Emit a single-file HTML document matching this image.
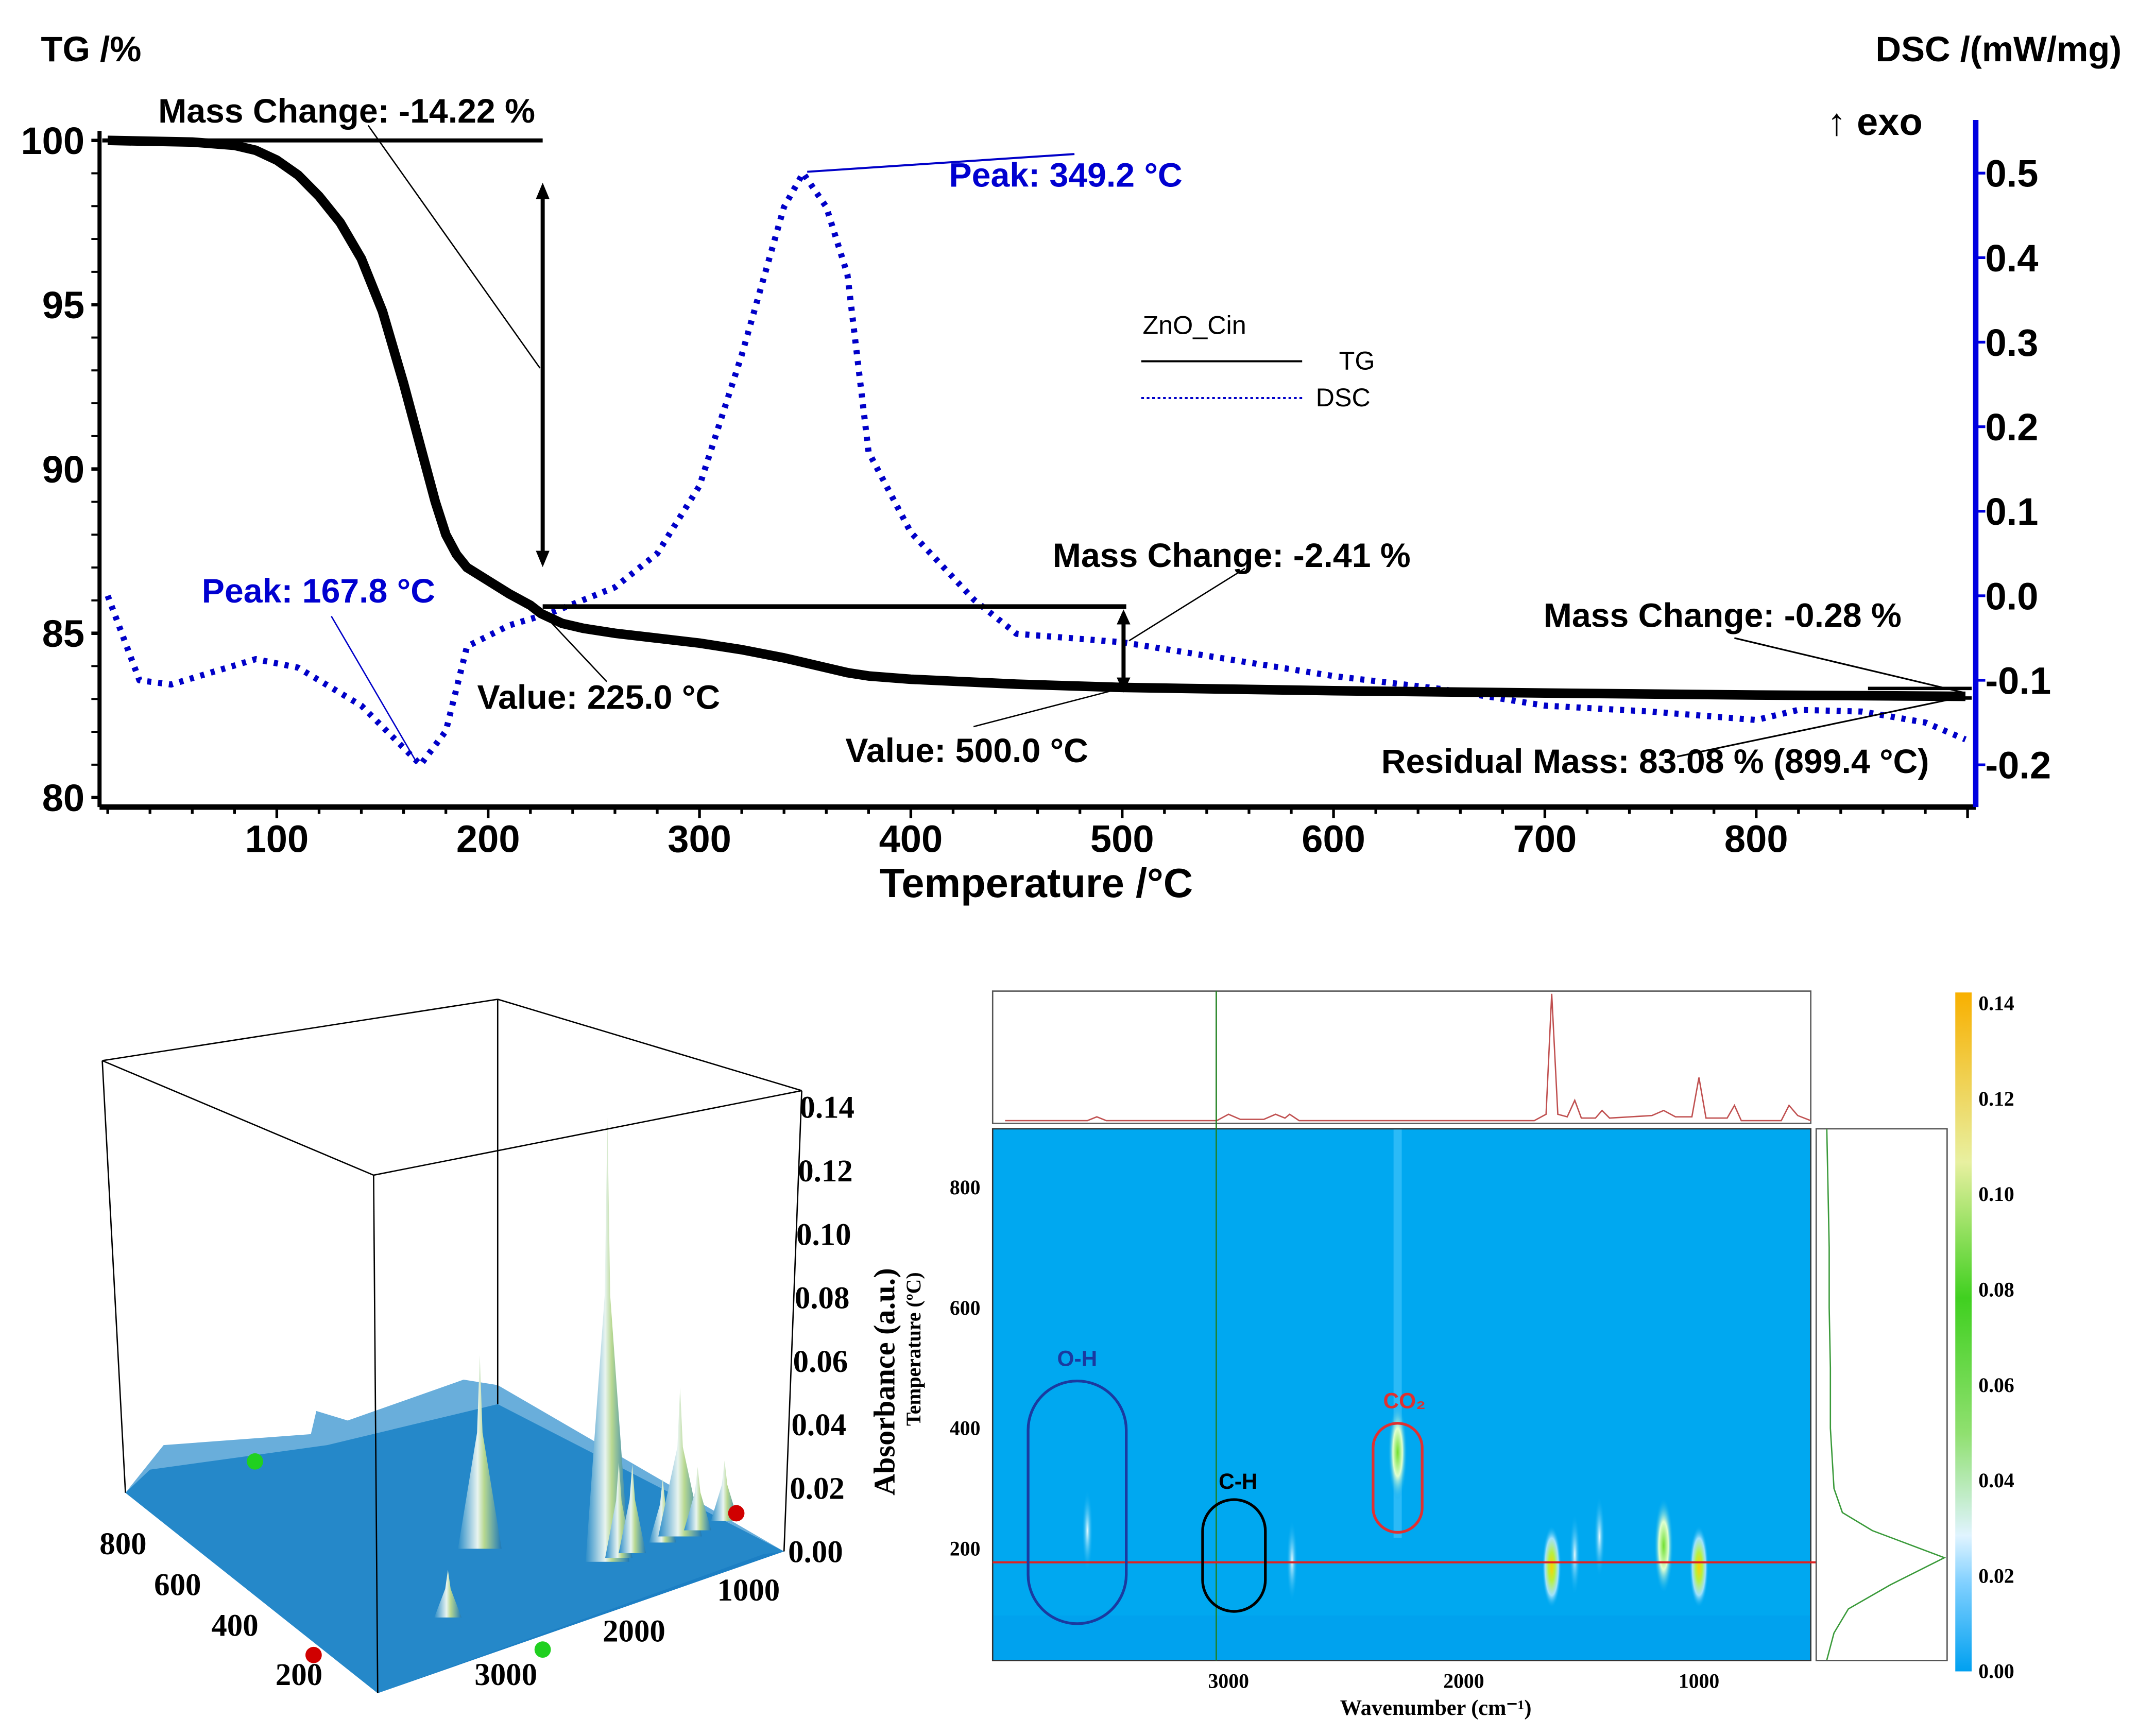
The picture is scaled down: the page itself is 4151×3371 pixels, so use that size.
<!DOCTYPE html>
<html><head><meta charset="utf-8"><style>
html,body{margin:0;padding:0;background:#fff}
svg{display:block}
</style></head><body>
<svg id="root" width="4151" height="3371" viewBox="0 0 1568 1273.4" preserveAspectRatio="none" xmlns="http://www.w3.org/2000/svg">
<defs>
<radialGradient id="blobY"><stop offset="0" stop-color="#ffd000"/><stop offset="0.35" stop-color="#b8f040"/><stop offset="0.7" stop-color="#c8f0ff" stop-opacity="0.8"/><stop offset="1" stop-color="#00aaf0" stop-opacity="0"/></radialGradient>
<radialGradient id="blobG"><stop offset="0" stop-color="#70e030"/><stop offset="0.5" stop-color="#e0ffd0"/><stop offset="1" stop-color="#00aaf0" stop-opacity="0"/></radialGradient>
<radialGradient id="blobW"><stop offset="0" stop-color="#e8fbff"/><stop offset="1" stop-color="#00aaf0" stop-opacity="0"/></radialGradient>
<linearGradient id="pk" x1="0" x2="1"><stop offset="0" stop-color="#2a8cc8"/><stop offset="0.45" stop-color="#e8f4f0"/><stop offset="0.6" stop-color="#b8d890"/><stop offset="1" stop-color="#1d78b8"/></linearGradient>
<linearGradient id="cbar" x1="0" y1="1" x2="0" y2="0"><stop offset="0" stop-color="#00a0f0"/><stop offset="0.13" stop-color="#80d0ff"/><stop offset="0.2" stop-color="#e0f4ff"/><stop offset="0.35" stop-color="#90e070"/><stop offset="0.55" stop-color="#40d020"/><stop offset="0.75" stop-color="#e8f0a0"/><stop offset="1" stop-color="#f8b000"/></linearGradient>
</defs>
<g id="top" font-family="Liberation Sans, sans-serif" font-weight="bold"></g>
<g id="bl"></g>
<g id="br" font-family="Liberation Serif, serif"></g>
</svg>
<script>
// ---- TG/DSC data ----
const tgTemps=[20,60,80,90,100,110,120,130,140,150,160,170,175,180,185,190,200,210,220,225,235,245,260,280,300,320,340,360,370,380,400,450,500,600,700,800,899];
const tgValues=[100,99.95,99.85,99.7,99.4,98.95,98.3,97.5,96.4,94.8,92.6,90.2,89.0,88.0,87.4,87.0,86.6,86.2,85.85,85.6,85.3,85.15,85.0,84.85,84.7,84.5,84.25,83.95,83.8,83.7,83.6,83.45,83.35,83.25,83.18,83.12,83.08];
const dscTemps=[20,35,50,90,110,140,160,168,180,190,210,230,260,280,300,320,340,349,360,370,380,400,430,450,500,550,600,650,700,750,800,820,850,880,899];
const dscValues=[0.0,-0.10,-0.105,-0.075,-0.085,-0.13,-0.18,-0.2,-0.16,-0.06,-0.035,-0.02,0.01,0.05,0.13,0.285,0.46,0.5,0.46,0.38,0.17,0.075,-0.005,-0.045,-0.055,-0.075,-0.095,-0.11,-0.13,-0.137,-0.147,-0.135,-0.137,-0.15,-0.17];
const xTicks=[100,200,300,400,500,600,700,800];
const tgTicks=[80,85,90,95,100];
const dscTicks=[-0.2,-0.1,0.0,0.1,0.2,0.3,0.4,0.5];
// ---- FTIR data ----
const specWn=[3950,3600,3560,3520,3050,3000,2950,2850,2800,2760,2740,2700,2650,2350,2100,1700,1650,1626,1600,1560,1528,1500,1440,1412,1380,1200,1150,1100,1030,1000,970,880,849,820,650,617,580,525];
const specAbs=[0,0,0.03,0,0,0.05,0.01,0.01,0.05,0.02,0.05,0,0,0,0,0,0.05,1.0,0.05,0.03,0.16,0.02,0.02,0.08,0.02,0.04,0.08,0.03,0.03,0.34,0.02,0.02,0.12,0,0,0.12,0.04,0];
const profT=[15,60,100,140,170,185,200,230,260,300,400,500,600,700,800,897];
const profV=[0.02,0.08,0.2,0.55,0.85,1.0,0.8,0.4,0.15,0.08,0.05,0.05,0.04,0.04,0.03,0.02];
const blobWn=[1626,1000,1528,1423,1150,2281,3600,2730];
const blobT=[170,170,190,220,205,360,230,180];
const blobKind=['Y','Y','W','W','G','G','W','W'];
const hmXTicks=[3000,2000,1000];
const hmYTicks=[200,400,600,800];
const cbTicks=[0.00,0.02,0.04,0.06,0.08,0.10,0.12,0.14];
// ---- 3D surface peaks ----
const peakWn=[3000,2281,1626,1528,1412,1150,1000,849,617];
const peakT=[180,360,180,180,180,180,180,180,180];
const peakH=[0.015,0.061,0.14,0.03,0.028,0.02,0.047,0.02,0.019];
const zTicks=[0.00,0.02,0.04,0.06,0.08,0.10,0.12,0.14];

const NS='http://www.w3.org/2000/svg';
function mk(p,tag,at,txt){const e=document.createElementNS(NS,tag);for(const k in at)e.setAttribute(k,at[k]);if(txt!==undefined)e.textContent=txt;p.appendChild(e);return e;}

// ===== TOP CHART =====
const T=document.getElementById('top');
const X=t=>203+(t-100)*1.55, YT=v=>103+(100-v)*24.1, YD=d=>437-d*620;
let e;
e=mk(T,'line',{x1:73,y1:96,x2:73,y2:592,stroke:'#000','stroke-width':3});

e=mk(T,'line',{x1:73,y1:592,x2:1449,y2:592,stroke:'#000','stroke-width':4});

e=mk(T,'line',{x1:1449,y1:88,x2:1449,y2:592,stroke:'#0000e0','stroke-width':4});

for(let v=80;v<=100;v+=1){e=mk(T,'line',{x1:67,y1:YT(v),x2:73,y2:YT(v),stroke:'#000','stroke-width':v%5?1.5:2.5});
}
tgTicks.forEach(v=>{e=mk(T,'text',{x:62,y:YT(v)+10,'font-size':28,'text-anchor':'end'},String(v));
});
for(let t=20;t<=900;t+=20){e=mk(T,'line',{x1:X(t),y1:592,x2:X(t),y2:t%100?597:600,stroke:'#000','stroke-width':2});
}
xTicks.forEach(t=>{e=mk(T,'text',{x:X(t),y:625,'font-size':28,'text-anchor':'middle'},String(t));
});
dscTicks.forEach(d=>{e=mk(T,'line',{x1:1449,y1:YD(d),x2:1456,y2:YD(d),stroke:'#0000e0','stroke-width':2});

e=mk(T,'text',{x:1456,y:YD(d)+10,'font-size':28},d.toFixed(1));
});
function lab(x,y,s,txt,name,fill,anchor){const el=mk(T,'text',{x:x,y:y,'font-size':s,fill:fill||'#000','text-anchor':anchor||'start'},txt);
return el;}
lab(30,45,26,'TG /%','tg-axis-title');
lab(1556,45,26,'DSC /(mW/mg)','dsc-axis-title','#000','end');
lab(1340,99,28,'↑ exo','exo-label');
lab(760,658,30,'Temperature /°C','x-axis-title','#000','middle');
let pts=dscTemps.map((t,i)=>X(t)+','+YD(dscValues[i])).join(' ');
e=mk(T,'polyline',{points:pts,fill:'none',stroke:'#0000c8','stroke-width':4.5,'stroke-dasharray':'3 5','stroke-linejoin':'round'});

pts=tgTemps.map((t,i)=>X(t)+','+YT(tgValues[i])).join(' ');
e=mk(T,'polyline',{points:pts,fill:'none',stroke:'#000','stroke-width':7,'stroke-linejoin':'round'});

function ln(x1,y1,x2,y2,w,name,c){const el=mk(T,'line',{x1,y1,x2,y2,stroke:c||'#000','stroke-width':w});}
ln(75,103,398,103,3,'mass-change-1-line');ln(398,138,398,412,3,'mass-change-1-arrow');
mk(T,'path',{d:'M393,146 L398,134 L403,146Z M393,404 L398,416 L403,404Z',fill:'#000'});
ln(270,92,396,270,1,'leader');ln(398,445,826,445,3.5,'mass-change-2-line');ln(824,450,824,505,3,'mass-change-2-arrow');
mk(T,'path',{d:'M819,458 L824,447 L829,458Z M819,497 L824,508 L829,497Z',fill:'#000'});
ln(828,470,913,417,1,'leader');ln(398,450,445,500,1,'leader');ln(714,533,818,506,1,'leader');
ln(243,452,306,560,1,'leader','#0000c8');ln(592,126,788,113,1.5,'leader','#0000c8');
ln(1272,468,1440,508,1.2,'leader');ln(1230,555,1440,511,1.2,'leader');
ln(1370,505,1446,505,2.5,'tg-end');ln(1370,512,1446,512,2.5,'tg-end');
lab(116,90,25,'Mass Change: -14.22 %','mass-change-1-label');
lab(772,416,25,'Mass Change: -2.41 %','mass-change-2-label');
lab(1132,460,25,'Mass Change: -0.28 %','mass-change-3-label');
lab(350,520,25,'Value: 225.0 °C','value-225-label');
lab(620,559,25,'Value: 500.0 °C','value-500-label');
lab(1013,567,25,'Residual Mass: 83.08 % (899.4 °C)','residual-mass-label');
lab(148,442,25,'Peak: 167.8 °C','peak-167-label','#0000d0');
lab(696,137,25,'Peak: 349.2 °C','peak-349-label','#0000d0');
e=mk(T,'text',{x:838,y:245,'font-size':19,'font-weight':'normal'},'ZnO_Cin');
ln(837,265,955,265,1.5,'legend-tg-line');ln(837,292,955,292,1.5,'legend-dsc-line');
T.lastChild.setAttribute('stroke-dasharray','2 2');T.lastChild.setAttribute('stroke','#0000c8');
e=mk(T,'text',{x:982,y:271,'font-size':19,'font-weight':'normal'},'TG');
e=mk(T,'text',{x:965,y:298,'font-size':19,'font-weight':'normal'},'DSC');

// ===== 3D PLOT =====
const B=document.getElementById('bl');
const bx=(w,t)=>{const u=(4000-w)/3500,v=(t-20)/880;return [277+u*(575-277)+v*(92-277), 1242+u*(1138-1242)+v*(1100-1242)];};
const zH=z=>z/0.14*326;
e=mk(B,'polygon',{points:'92,1095 110,1078 240,1060 365,1030 575,1138 277,1242',fill:'#1c7fc4'});

e=mk(B,'polygon',{points:'92,1095 120,1060 228,1052 232,1035 255,1042 340,1012 365,1016 575,1138 560,1140 277,1242',fill:'#2a8ccc',opacity:0.7});

peakWn.forEach((w,i)=>{const [px,py]=bx(w,peakT[i]);const h=zH(peakH[i]);const hw=h>100?16:10;
e=mk(B,'polygon',{points:`${px-hw},${py} ${px-2},${py-h*0.6} ${px},${py-h} ${px+2},${py-h*0.6} ${px+hw},${py}`,fill:'url(#pk)'});
});
[[75,778,365,733],[365,733,588,800],[588,800,274,862],[274,862,75,778],[75,778,92,1095],[274,862,277,1242],[588,800,575,1138],[365,733,365,1030]].forEach(s=>{
e=mk(B,'line',{x1:s[0],y1:s[1],x2:s[2],y2:s[3],stroke:'#000','stroke-width':1});});
zTicks.forEach(z=>{e=mk(B,'text',{x:578+z*60,y:1146-zH(z),'font-size':23,'font-family':'Liberation Serif, serif','font-weight':'bold'},z.toFixed(2));
});
[[800,93,1140],[600,133,1170],[400,175,1200],[200,222,1236]].forEach(a=>{e=mk(B,'text',{x:a[1]-20,y:a[2],'font-size':23,'font-family':'Liberation Serif, serif','font-weight':'bold'},String(a[0]));
});
[[3000,348,1236],[2000,442,1204],[1000,526,1174]].forEach(a=>{e=mk(B,'text',{x:a[1],y:a[2],'font-size':23,'font-family':'Liberation Serif, serif','font-weight':'bold'},String(a[0]));
});
e=mk(B,'text',{x:0,y:0,'font-size':22,'font-family':'Liberation Serif, serif','font-weight':'bold',transform:'translate(656,1097) rotate(-90)'},'Absorbance (a.u.)');

e=mk(B,'text',{x:0,y:0,'font-size':15,'font-family':'Liberation Serif, serif','font-weight':'bold',transform:'translate(675,1046) rotate(-90)'},'Temperature (ºC)');

[[187,1072,'#20d020'],[398,1210,'#20d020'],[230,1214,'#d00000'],[540,1110,'#d00000']].forEach(c=>{e=mk(B,'circle',{cx:c[0],cy:c[1],r:6,fill:c[2]});});

// ===== HEATMAP =====
const H=document.getElementById('br');
const HX=w=>901-(w-3000)*0.1725, HY=t=>1136-(t-200)*0.4417;
e=mk(H,'rect',{x:728,y:727,width:600,height:97,fill:'#fff',stroke:'#555','stroke-width':1});

pts=specWn.map((w,i)=>HX(w)+','+(822-specAbs[i]*93)).join(' ');
e=mk(H,'polyline',{points:pts,fill:'none',stroke:'#c05050','stroke-width':1});

e=mk(H,'rect',{x:728,y:828,width:600,height:390,fill:'#00a8f0'});

e=mk(H,'rect',{x:728,y:1185,width:600,height:33,fill:'#0098ec',opacity:0.35});

e=mk(H,'rect',{x:HX(2281)-3,y:828,width:6,height:300,fill:'#60d0ff',opacity:0.45});

blobWn.forEach((w,i)=>{const k=blobKind[i];e=mk(H,'ellipse',{cx:HX(w),cy:HY(blobT[i]),rx:k==='W'?4:7,ry:k==='G'?35:30,fill:'url(#blob'+k+')'});
});
e=mk(H,'rect',{x:728,y:828,width:600,height:390,fill:'none',stroke:'#333','stroke-width':1});

e=mk(H,'line',{x1:892,y1:727,x2:892,y2:1218,stroke:'#208020','stroke-width':1});

e=mk(H,'line',{x1:728,y1:1146,x2:1428,y2:1146,stroke:'#e02020','stroke-width':1.5});

e=mk(H,'rect',{x:1332,y:828,width:96,height:390,fill:'#fff',stroke:'#555','stroke-width':1});

pts=profT.map((t,i)=>(1338+profV[i]*88)+','+HY(t)).join(' ');
e=mk(H,'polyline',{points:pts,fill:'none',stroke:'#3a9a3a','stroke-width':1});

hmXTicks.forEach(w=>{e=mk(H,'text',{x:HX(w),y:1238,'font-size':15,'font-weight':'bold','text-anchor':'middle'},String(w));
});
hmYTicks.forEach(t=>{e=mk(H,'text',{x:719,y:HY(t)+5,'font-size':15,'font-weight':'bold','text-anchor':'end'},String(t));
});
e=mk(H,'text',{x:1053,y:1258,'font-size':16,'font-weight':'bold','text-anchor':'middle'},'Wavenumber (cm⁻¹)');

e=mk(H,'rect',{x:1434,y:728,width:12,height:498,fill:'url(#cbar)'});

cbTicks.forEach(v=>{const y=1226-v/0.14*490;e=mk(H,'text',{x:1451,y:y+5,'font-size':15,'font-weight':'bold'},v.toFixed(2));
});
[[790,1102,36,53,'#1a3aa0','o-h-region'],[905,1141,23,18,'#000','c-h-region'],[1025,1084,18,22,'#e03030','co2-region']].forEach(o=>{
e=mk(H,'rect',{x:o[0]-o[2],y:o[1]-o[3]-o[2],width:2*o[2],height:2*(o[3]+o[2]),rx:o[2],fill:'none',stroke:o[4],'stroke-width':2});
});
[[790,1002,'O-H','#1a3aa0'],[908,1092,'C-H','#000'],[1030,1033,'CO₂','#e03030']].forEach(o=>{
e=mk(H,'text',{x:o[0],y:o[1],'font-size':16,'font-weight':'bold','font-family':'Liberation Sans, sans-serif',fill:o[3],'text-anchor':'middle'},o[2]);
});
</script>
</body></html>
